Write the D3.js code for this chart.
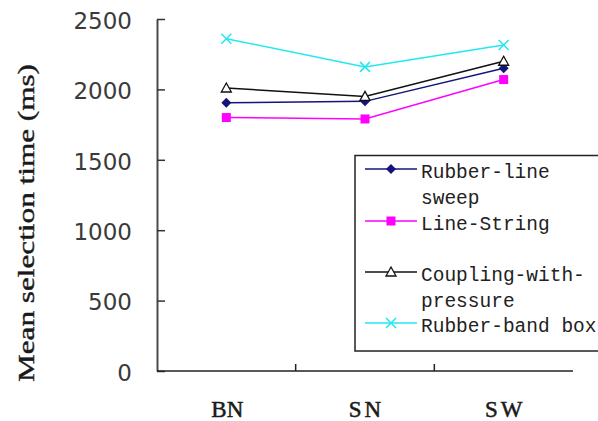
<!DOCTYPE html>
<html>
<head>
<meta charset="utf-8">
<script src="https://cdn.jsdelivr.net/npm/d3@7/dist/d3.min.js"></script>
<style>
  html, body { margin: 0; padding: 0; background: #fff; }
  svg { display: block; }
</style>
</head>
<body>
<svg id="chart" width="598" height="421"></svg>
<script>
// Conditions on the x axis
const categories = ["BN", "SN", "SW"];

// Mean selection time (ms) per technique
const rubberLineSweep = [1905, 1915, 2150];
const lineString      = [1800, 1790, 2070];
const couplingWithPressure = [2010, 1950, 2200];
const rubberBandBox   = [2360, 2160, 2315];

const yTicks = [0, 500, 1000, 1500, 2000, 2500];

const seriesNames = ["Rubber-line sweep", "Line-String", "Coupling-with-pressure", "Rubber-band box"];
const legendLines = [["Rubber-line", "sweep"], ["Line-String"], ["Coupling-with-", "pressure"], ["Rubber-band box"]];

const series = [
  { name: seriesNames[0], values: rubberLineSweep, color: "#14147a", marker: "diamond" },
  { name: seriesNames[1], values: lineString, color: "#ff00ff", marker: "square" },
  { name: seriesNames[2], values: couplingWithPressure, color: "#111111", marker: "triangle" },
  { name: seriesNames[3], values: rubberBandBox, color: "#22e8f0", marker: "cross" }
];

const svg = d3.select("#chart");
const plot = { left: 157, right: 573, top: 19, bottom: 371 };

const x = d3.scaleBand().domain(categories).range([plot.left, plot.right]);
const y = d3.scaleLinear().domain([0, 2500]).range([plot.bottom, plot.top]);

// Y axis with inward ticks
const yAxis = d3.axisLeft(y).tickValues(yTicks).tickFormat(d3.format("d"))
  .tickSizeInner(-8).tickSizeOuter(0).tickPadding(25);
const yg = svg.append("g").attr("transform", `translate(${plot.left},0)`).call(yAxis);
yg.select(".domain").attr("stroke", "#4a4a4a").attr("stroke-width", 2);
yg.selectAll(".tick line").attr("stroke", "#333").attr("stroke-width", 1.5);
yg.selectAll(".tick text")
  .attr("font-family", "DejaVu Sans")
  .attr("font-size", 23)
  .attr("fill", "#3a3a3a")
  .attr("dy", "0.4em");

// X axis: baseline and ticks at the category boundaries
const xg = svg.append("g");
xg.append("line")
  .attr("x1", plot.left).attr("x2", plot.right)
  .attr("y1", y(0)).attr("y2", y(0))
  .attr("stroke", "#222").attr("stroke-width", 1.5);
xg.selectAll("line.tick")
  .data(categories.slice(1))
  .join("line")
  .attr("class", "tick")
  .attr("x1", d => x(d)).attr("x2", d => x(d))
  .attr("y1", y(0)).attr("y2", y(0) - 7)
  .attr("stroke", "#222").attr("stroke-width", 1.5);
xg.selectAll("text")
  .data(categories)
  .join("text")
  .attr("x", d => x(d) + x.bandwidth() / 2 + (d === "BN" ? 1 : 1.5))
  .attr("y", 416.5)
  .attr("text-anchor", "middle")
  .attr("font-family", "Liberation Serif")
  .attr("font-size", 23)
  .attr("letter-spacing", d => d === "BN" ? 0 : 3)
  .attr("fill", "#1a1a1a")
  .attr("stroke", "#1a1a1a")
  .attr("stroke-width", 0.5)
  .text(d => d);

// Y axis title
svg.append("text")
  .attr("transform", "translate(34,223) rotate(-90)")
  .attr("text-anchor", "middle")
  .attr("font-family", "Liberation Serif")
  .attr("font-size", 24)
  .attr("textLength", 318)
  .attr("lengthAdjust", "spacingAndGlyphs")
  .attr("fill", "#1a1a1a")
  .attr("stroke", "#1a1a1a")
  .attr("stroke-width", 0.4)
  .text("Mean selection time (ms)");

function drawMarker(g, type, color, cx, cy) {
  if (type === "diamond") {
    g.append("path").attr("d", `M${cx},${cy - 5}L${cx + 5},${cy}L${cx},${cy + 5}L${cx - 5},${cy}Z`)
      .attr("fill", color);
  } else if (type === "square") {
    g.append("rect").attr("x", cx - 4.5).attr("y", cy - 4.5).attr("width", 9).attr("height", 9)
      .attr("fill", color);
  } else if (type === "triangle") {
    g.append("path").attr("d", `M${cx},${cy - 5}L${cx + 5},${cy + 4}L${cx - 5},${cy + 4}Z`)
      .attr("fill", "#fff").attr("stroke", color).attr("stroke-width", 1.3);
  } else {
    g.append("path").attr("d", `M${cx - 5},${cy - 5}L${cx + 5},${cy + 5}M${cx - 5},${cy + 5}L${cx + 5},${cy - 5}`)
      .attr("stroke", color).attr("stroke-width", 1.5);
  }
}

const cx = d => x(d) + x.bandwidth() / 2;
const line = d3.line().x((v, i) => cx(categories[i])).y(v => y(v));

series.forEach(s => {
  const g = svg.append("g");
  g.append("path").attr("d", line(s.values))
    .attr("fill", "none").attr("stroke", s.color).attr("stroke-width", 1.5);
  s.values.forEach((v, i) => drawMarker(g, s.marker, s.color, cx(categories[i]), y(v)));
});

// Legend
const legend = svg.append("g");
legend.append("rect")
  .attr("x", 355).attr("y", 155.5).attr("width", 260).attr("height", 195.5)
  .attr("fill", "#fff").attr("stroke", "#222").attr("stroke-width", 1.5);
const legendY = [169, 221, 272, 323];
series.forEach((s, i) => {
  const ly = legendY[i];
  legend.append("line").attr("x1", 365).attr("x2", 417).attr("y1", ly).attr("y2", ly)
    .attr("stroke", s.color).attr("stroke-width", 1.5);
  drawMarker(legend, s.marker, s.color, 391, ly);
  legendLines[i].forEach((t, j) => {
    legend.append("text")
      .attr("x", 421).attr("y", ly + 9 + j * 25.5)
      .attr("font-family", "Liberation Mono")
      .attr("font-size", 19.5)
      .attr("fill", "#222")
      .text(t);
  });
});
</script>
</body>
</html>
